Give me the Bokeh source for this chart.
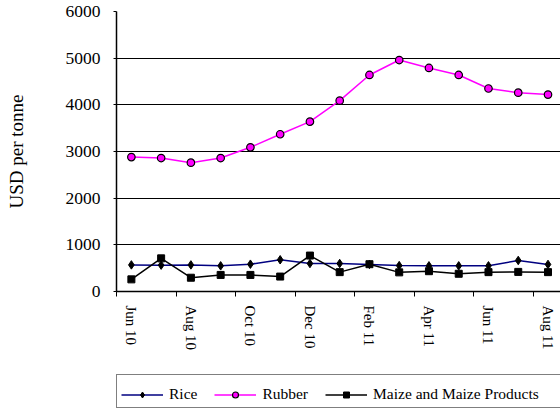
from bokeh.plotting import figure
from bokeh.layouts import column
from bokeh.models import (Range1d, FixedTicker, Legend, LegendItem)
from bokeh.embed import file_html
from bokeh.resources import INLINE

months = ["Jun 10", "Jul 10", "Aug 10", "Sep 10", "Oct 10", "Nov 10", "Dec 10",
          "Jan 11", "Feb 11", "Mar 11", "Apr 11", "May 11", "Jun 11", "Jul 11", "Aug 11"]
rice = [570, 565, 570, 550, 585, 680, 600, 600, 580, 555, 550, 550, 550, 665, 580]
rubber = [2880, 2860, 2760, 2860, 3090, 3370, 3640, 4090, 4640, 4960, 4790, 4640, 4350, 4260, 4220]
maize = [260, 710, 295, 355, 355, 320, 770, 415, 585, 410, 435, 380, 415, 420, 415]
y_ticks = [0, 1000, 2000, 3000, 4000, 5000, 6000]
series_names = ["Rice", "Rubber", "Maize and Maize Products"]

x = [i + 0.5 for i in range(len(months))]
label_pos = [i + 0.5 for i in range(0, len(months), 2)]
boundaries = [float(i) for i in range(0, len(months), 2)]
overrides = {i + 0.5: months[i] for i in range(0, len(months), 2)}

SERIF = "Liberation Serif"
STYLES = [
    dict(line_color="#000080", marker="diamond", size=8.5,
         fill_color="black", mline="black", mwidth=1),
    dict(line_color="#FF00FF", marker="circle", size=7.5,
         fill_color="#FF00FF", mline="black", mwidth=1.2),
    dict(line_color="black", marker="square", size=7,
         fill_color="black", mline="black", mwidth=1),
]

p = figure(width=560, height=374, output_backend="svg", toolbar_location=None,
           x_range=Range1d(0, 14.92), y_range=Range1d(0, 6000),
           min_border_left=116, min_border_right=0, min_border_top=11,
           min_border_bottom=83)
p.outline_line_color = None
p.background_fill_color = "white"

# axes
p.xaxis.ticker = FixedTicker(ticks=label_pos, minor_ticks=boundaries)
p.xaxis.major_label_overrides = overrides
p.xaxis.major_tick_out = 0
p.xaxis.major_tick_in = 0
p.xaxis.minor_tick_out = 5
p.xaxis.minor_tick_in = 0
p.xaxis.minor_tick_line_color = "black"
p.xaxis.major_label_orientation = "vertical"
p.xaxis.major_label_standoff = 9
p.xaxis.major_label_text_font = SERIF
p.xaxis.major_label_text_font_size = "15px"
p.xaxis.major_label_text_color = "black"
p.xaxis.axis_line_width = 1.5
p.xaxis.axis_line_color = "black"

p.yaxis.ticker = FixedTicker(ticks=y_ticks)
p.yaxis.minor_tick_line_color = None
p.yaxis.major_tick_out = 3
p.yaxis.major_tick_in = 0
p.yaxis.major_tick_line_color = "black"
p.yaxis.major_label_standoff = 13
p.yaxis.major_label_text_font = SERIF
p.yaxis.major_label_text_font_size = "17.5px"
p.yaxis.major_label_text_color = "black"
p.yaxis.axis_line_width = 1.5
p.yaxis.axis_line_color = "black"
p.yaxis.axis_label = "USD per tonne"
p.yaxis.axis_label_text_font = SERIF
p.yaxis.axis_label_text_font_size = "19px"
p.yaxis.axis_label_text_font_style = "normal"
p.yaxis.axis_label_text_color = "black"
p.yaxis.axis_label_standoff = 36

p.xgrid.grid_line_color = None
p.ygrid.grid_line_color = "black"
p.ygrid.grid_line_width = 1

# series
for vals, st in zip([rice, rubber, maize], STYLES):
    p.line(x, vals, line_color=st["line_color"], line_width=1.5)
    p.scatter(x, vals, marker=st["marker"], size=st["size"],
              fill_color=st["fill_color"], line_color=st["mline"],
              line_width=st["mwidth"])

# legend strip
q = figure(width=560, height=34, output_backend="svg", toolbar_location=None,
           x_range=Range1d(0, 14.92), y_range=Range1d(0, 1),
           x_axis_location=None, y_axis_location=None,
           min_border_left=116, min_border_right=0, min_border_top=0,
           min_border_bottom=0)
q.outline_line_color = None
q.grid.visible = False
items = []
for name, vals, st in zip(series_names, [rice, rubber, maize], STYLES):
    lr = q.line(x, vals, line_color=st["line_color"], line_width=1.5)
    mr = q.scatter(x, vals, marker=st["marker"], size=st["size"],
                   fill_color=st["fill_color"], line_color=st["mline"],
                   line_width=st["mwidth"])
    items.append(LegendItem(label=name, renderers=[lr, mr]))
dummy = q.line(x, rice, line_alpha=0)
items.append(LegendItem(label="      ", renderers=[dummy]))

legend = Legend(items=items, orientation="horizontal", location="top_left")
legend.title = " "
legend.title_text_font_size = "6px"
legend.title_standoff = 0
legend.label_text_font = SERIF
legend.label_text_font_size = "15.5px"
legend.label_text_color = "black"
legend.glyph_width = 42
legend.glyph_height = 15
legend.label_height = 15
legend.label_standoff = 6
legend.spacing = 17
legend.padding = 4
legend.margin = 0
legend.border_line_color = "black"
legend.border_line_width = 1
legend.background_fill_color = "white"
legend.background_fill_alpha = 1
q.add_layout(legend, "center")

layout = column(p, q, spacing=0)
open("out.html", "w").write(file_html(layout, INLINE))
